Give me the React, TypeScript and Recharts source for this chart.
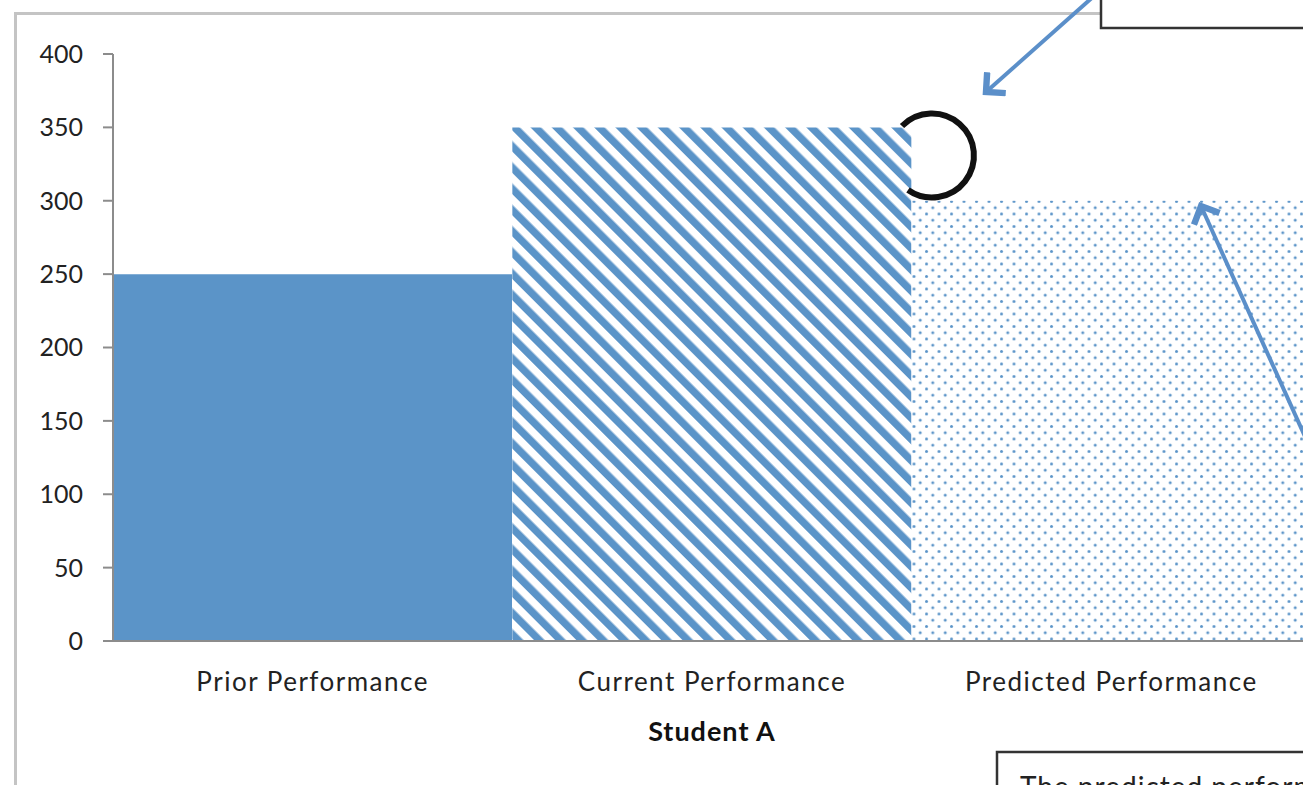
import React from 'react';
import { BarChart, Bar, XAxis, YAxis, Cell } from 'recharts';

const categories = ['Prior Performance', 'Current Performance', 'Predicted Performance'];
const scores = [250, 350, 300];
const yTicks = [0, 50, 100, 150, 200, 250, 300, 350, 400];
const axisTitle = 'Student A';
const calloutText = 'The predicted performance is based on the trend';

const data = categories.map((name, i) => ({ name, score: scores[i] }));

const BLUE = '#5b94c8';
const fills = ['url(#solidFill)', 'url(#stripeFill)', 'url(#dotFill)'];
const FONT = 'Lato, "Liberation Sans", sans-serif';

export default function App() {
  return (
    <div style={{ position: 'absolute', left: 0, top: 0, width: 1303, height: 785, overflow: 'hidden', background: '#fff' }}>
      {/* chart frame */}
      <div style={{ position: 'absolute', left: 14, top: 12, width: 1400, height: 900, border: '3px solid #c4c4c4' }} />

      <div style={{ position: 'absolute', left: 0, top: 0 }}>
        <BarChart
          width={1320}
          height={785}
          data={data}
          barCategoryGap={0}
          margin={{ top: 54, right: 9, left: 0, bottom: 0 }}
        >
          <defs>
            <pattern id="solidFill" width="10" height="10" patternUnits="userSpaceOnUse">
              <rect width="10" height="10" fill={BLUE} />
            </pattern>
            <pattern id="stripeFill" width="15" height="15" patternUnits="userSpaceOnUse" patternTransform="rotate(-45)">
              <rect width="15" height="15" fill="#fff" />
              <rect x="0" y="0" width="7.5" height="15" fill={BLUE} />
            </pattern>
            <pattern id="dotFill" width="12.5" height="12.5" patternUnits="userSpaceOnUse">
              <rect width="12.5" height="12.5" fill="#fff" />
              <circle cx="1.5" cy="1.5" r="1.5" fill={BLUE} />
              <circle cx="7.75" cy="7.75" r="1.5" fill={BLUE} />
            </pattern>
          </defs>
          <XAxis
            dataKey="name"
            height={144}
            tickLine={false}
            tickSize={0}
            tickMargin={32}
            axisLine={{ stroke: '#8c8c8c', strokeWidth: 2 }}
            tick={{ fill: '#222', fontSize: 26, fontFamily: FONT, letterSpacing: 1.5 }}
            interval={0}
            label={{ value: axisTitle, position: 'insideBottom', offset: 44, fill: '#111', fontSize: 27, fontWeight: 700, fontFamily: FONT, letterSpacing: 1 }}
          />
          <YAxis
            width={113}
            domain={[0, 400]}
            ticks={yTicks}
            interval={0}
            tickSize={10}
            tickMargin={20}
            axisLine={{ stroke: '#8c8c8c', strokeWidth: 2 }}
            tickLine={{ stroke: '#8c8c8c', strokeWidth: 2 }}
            tick={{ fill: '#222', fontSize: 25, fontFamily: FONT }}
          />
          <Bar dataKey="score" isAnimationActive={false}>
            {data.map((d, i) => (
              <Cell key={d.name} fill={fills[i]} />
            ))}
          </Bar>
        </BarChart>
      </div>

      {/* annotations drawn over the chart */}
      <svg width={1303} height={785} style={{ position: 'absolute', left: 0, top: 0, pointerEvents: 'none' }}>
        <defs>
          <marker id="arrowHead" markerWidth="8" markerHeight="8" refX="4" refY="4" orient="auto" markerUnits="strokeWidth">
            <path d="M0.5,0.5 L4,4 L0.5,7.5" fill="none" stroke="#5b8fc9" strokeWidth="1.6" strokeLinejoin="miter" />
          </marker>
        </defs>
        <line x1={1094} y1={-4} x2={986} y2={92} stroke="#5b8fc9" strokeWidth={4} markerEnd="url(#arrowHead)" />
        <line x1={1312} y1={452} x2={1201} y2={206} stroke="#5b8fc9" strokeWidth={4} markerEnd="url(#arrowHead)" />
        <path d="M902,126 A42,42 0 1 1 908,190" fill="none" stroke="#111" strokeWidth={6} />
        <rect x={1101} y={-10} width={300} height={38} fill="#fff" stroke="#333" strokeWidth={2.5} />
        <rect x={997} y={752} width={400} height={100} fill="#fff" stroke="#333" strokeWidth={2.5} />
        <text x={1020} y={797} fill="#222" fontSize={28} fontFamily={FONT} letterSpacing={1}>{calloutText}</text>
      </svg>
    </div>
  );
}
